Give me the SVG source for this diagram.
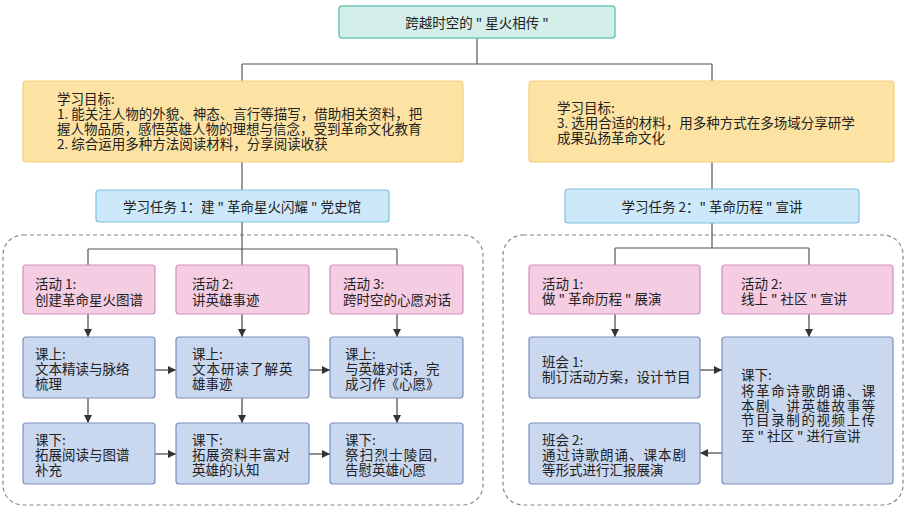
<svg xmlns="http://www.w3.org/2000/svg" width="906" height="507" viewBox="0 0 906 507">
<defs>
<marker id="arr" viewBox="0 0 10 10" refX="10" refY="5" markerWidth="8" markerHeight="8" markerUnits="userSpaceOnUse" orient="auto"><path d="M0,0 L10,5 L0,10 z" fill="#333"/></marker>
<style>
text{font-family:"Noto Sans CJK SC","Noto Sans",sans-serif;font-size:13.5px;fill:#222;dominant-baseline:central}
.mid{text-anchor:middle}
.title{fill:#d4efe9;stroke:#6ccab8;stroke-width:1.5}
.goal{fill:#fce3a3;stroke:#f3cf7c;stroke-width:1.2}
.task{fill:#cde9f9;stroke:#7fbfe2;stroke-width:1.2}
.act{fill:#f4cde3;stroke:#d18fbb;stroke-width:1.2}
.sub{fill:#c9d7ef;stroke:#7a8fbd;stroke-width:1.2}
.ln{fill:none;stroke:#555;stroke-width:1.2}
.ar{fill:none;stroke:#444;stroke-width:1.2;marker-end:url(#arr)}
.dash{fill:none;stroke:#888;stroke-width:1.2;stroke-dasharray:4 3}
</style>
</defs>
<rect width="906" height="507" fill="#ffffff"/>

<g id="containers">
<rect class="dash" x="3" y="235" width="480" height="270" rx="20"/>
<rect class="dash" x="503" y="235" width="400" height="270" rx="20"/>
</g>

<g id="connectors">
<path class="ln" d="M477,38 V64 M242,64 H712 M242,64 V81 M712,64 V81"/>
<path class="ln" d="M242,162 V190 M712,162 V189"/>
<path class="ln" d="M242,222 V249 M88,249 H397 M88,249 V265 M242,249 V265 M397,249 V265"/>
<path class="ln" d="M712,223 V248 M615,248 H809 M615,248 V265 M809,248 V265"/>
<path class="ar" d="M88,314 V337"/>
<path class="ar" d="M242,314 V337"/>
<path class="ar" d="M397,314 V337"/>
<path class="ar" d="M88,398 V423"/>
<path class="ar" d="M242,398 V423"/>
<path class="ar" d="M397,398 V423"/>
<path class="ar" d="M155,370 H176"/>
<path class="ar" d="M309,370 H330"/>
<path class="ar" d="M155,454 H176"/>
<path class="ar" d="M309,454 H330"/>
<path class="ar" d="M615,314 V337"/>
<path class="ar" d="M809,314 V337"/>
<path class="ar" d="M700,370 H722"/>
<path class="ar" d="M722,453 H700"/>
</g>

<g id="n-title">
<rect class="title" x="339" y="6" width="276" height="32" rx="3"/>
<text class="mid" x="477" y="22" font-size="14">跨越时空的 " 星火相传 "</text>
</g>

<g id="n-goal1">
<rect class="goal" x="23" y="81" width="440" height="81" rx="3"/>
<text x="57" y="98">学习目标:<tspan x="57" dy="15">1. 能关注人物的外貌、神态、言行等描写，借助相关资料，把</tspan><tspan x="57" dy="15">握人物品质，感悟英雄人物的理想与信念，受到革命文化教育</tspan><tspan x="57" dy="15">2. 综合运用多种方法阅读材料，分享阅读收获</tspan></text>
</g>

<g id="n-goal2">
<rect class="goal" x="529" y="81" width="365" height="81" rx="3"/>
<text x="557" y="107">学习目标:<tspan x="557" dy="15">3. 选用合适的材料，用多种方式在多场域分享研学</tspan><tspan x="557" dy="15">成果弘扬革命文化</tspan></text>
</g>

<g id="n-task1">
<rect class="task" x="96" y="190" width="293" height="32" rx="3"/>
<text class="mid" x="242" y="206" font-size="14">学习任务 1：建 " 革命星火闪耀 " 党史馆</text>
</g>

<g id="n-task2">
<rect class="task" x="565" y="189" width="294" height="34" rx="3"/>
<text class="mid" x="712" y="206" font-size="14">学习任务 2：" 革命历程 " 宣讲</text>
</g>

<g id="n-a1">
<rect class="act" x="23" y="265" width="132" height="49" rx="3"/>
<text x="35" y="283">活动 1:<tspan x="35" dy="16">创建革命星火图谱</tspan></text>
</g>
<g id="n-a2">
<rect class="act" x="176" y="265" width="133" height="49" rx="3"/>
<text x="192" y="283">活动 2:<tspan x="192" dy="16">讲英雄事迹</tspan></text>
</g>
<g id="n-a3">
<rect class="act" x="330" y="265" width="133" height="49" rx="3"/>
<text x="343" y="283">活动 3:<tspan x="343" dy="16">跨时空的心愿对话</tspan></text>
</g>

<g id="n-c1">
<rect class="sub" x="23" y="337" width="132" height="61" rx="3"/>
<text x="35" y="353">课上:<tspan x="35" dy="15">文本精读与脉络</tspan><tspan x="35" dy="15">梳理</tspan></text>
</g>
<g id="n-c2">
<rect class="sub" x="176" y="337" width="133" height="61" rx="3"/>
<text x="192" y="353">课上:<tspan x="192" dy="15" letter-spacing="1">文本研读了解英</tspan><tspan x="192" dy="15">雄事迹</tspan></text>
</g>
<g id="n-c3">
<rect class="sub" x="330" y="337" width="133" height="61" rx="3"/>
<text x="345" y="353">课上:<tspan x="345" dy="15">与英雄对话，完</tspan><tspan x="345" dy="15">成习作《心愿》</tspan></text>
</g>

<g id="n-d1">
<rect class="sub" x="23" y="423" width="132" height="61" rx="3"/>
<text x="35" y="439">课下:<tspan x="35" dy="15">拓展阅读与图谱</tspan><tspan x="35" dy="15">补充</tspan></text>
</g>
<g id="n-d2">
<rect class="sub" x="176" y="423" width="133" height="61" rx="3"/>
<text x="192" y="439">课下:<tspan x="192" dy="15" letter-spacing="0.6">拓展资料丰富对</tspan><tspan x="192" dy="15">英雄的认知</tspan></text>
</g>
<g id="n-d3">
<rect class="sub" x="330" y="423" width="133" height="61" rx="3"/>
<text x="345" y="439">课下:<tspan x="345" dy="15" letter-spacing="1.2">祭扫烈士陵园,</tspan><tspan x="345" dy="15">告慰英雄心愿</tspan></text>
</g>

<g id="n-b1">
<rect class="act" x="529" y="265" width="171" height="49" rx="3"/>
<text x="542" y="283">活动 1:<tspan x="542" dy="15">做 " 革命历程 " 展演</tspan></text>
</g>
<g id="n-b2">
<rect class="act" x="722" y="265" width="171" height="49" rx="3"/>
<text x="741" y="283">活动 2:<tspan x="741" dy="15">线上 " 社区 " 宣讲</tspan></text>
</g>

<g id="n-m1">
<rect class="sub" x="529" y="337" width="171" height="61" rx="3"/>
<text x="542" y="361">班会 1:<tspan x="542" dy="15">制订活动方案，设计节目</tspan></text>
</g>
<g id="n-m2">
<rect class="sub" x="529" y="423" width="171" height="61" rx="3"/>
<text x="542" y="439">班会 2:<tspan x="542" dy="15" letter-spacing="1">通过诗歌朗诵、课本剧</tspan><tspan x="542" dy="15">等形式进行汇报展演</tspan></text>
</g>
<g id="n-m3">
<rect class="sub" x="722" y="337" width="171" height="147" rx="3"/>
<text x="741" y="374">课下:<tspan x="741" dy="16" letter-spacing="1.6">将革命诗歌朗诵、课</tspan><tspan x="741" dy="15" letter-spacing="1.6">本剧、讲英雄故事等</tspan><tspan x="741" dy="14" letter-spacing="1.6">节目录制的视频上传</tspan><tspan x="741" dy="16">至 " 社区 " 进行宣讲</tspan></text>
</g>
</svg>
